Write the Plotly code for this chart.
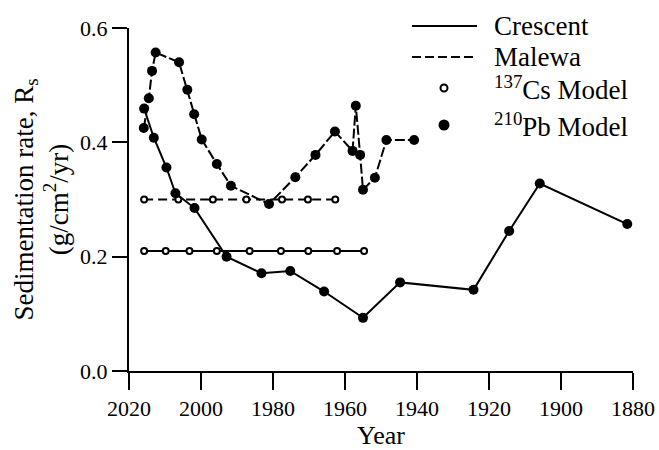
import plotly.graph_objects as go

# ---- data -------------------------------------------------------------
crescent_pb_year = [2015.8, 2013.1, 2009.6, 2007.1, 2001.8, 1992.9, 1983.2, 1975.2,
                    1965.8, 1955.0, 1944.7, 1924.3, 1914.4, 1905.9, 1881.6]
crescent_pb_rate = [0.459, 0.408, 0.356, 0.311, 0.285, 0.200, 0.171, 0.175,
                    0.139, 0.093, 0.155, 0.142, 0.245, 0.328, 0.257]

malewa_pb_year = [2015.9, 2014.5, 2013.6, 2012.6, 2006.1, 2003.8, 2001.9, 1999.8,
                  1995.6, 1991.7, 1981.1, 1973.8, 1968.2, 1962.8, 1957.9, 1957.0,
                  1955.8, 1955.0, 1951.7, 1948.5, 1940.8]
malewa_pb_rate = [0.425, 0.477, 0.525, 0.557, 0.540, 0.492, 0.449, 0.405,
                  0.362, 0.324, 0.292, 0.339, 0.378, 0.419, 0.385, 0.464,
                  0.378, 0.317, 0.338, 0.404, 0.404]

crescent_cs_year = [2015.8, 2009.8, 2003.2, 1995.6, 1986.5, 1977.8, 1970.2, 1962.2, 1954.7]
crescent_cs_rate = [0.21] * len(crescent_cs_year)

malewa_cs_year = [2015.8, 2006.3, 1996.7, 1987.4, 1977.5, 1970.3, 1962.7]
malewa_cs_rate = [0.30] * len(malewa_cs_year)

x_ticks = [2020, 2000, 1980, 1960, 1940, 1920, 1900, 1880]
y_ticks = [0.0, 0.2, 0.4, 0.6]

# ---- styling ----------------------------------------------------------
FONT = "Liberation Serif"
BLACK = "black"
DASH_PB = "10px,3px"
DASH_CS = "9px,5px"
W, H = 659, 450
M_L, M_R, M_T, M_B = 129, 26, 28, 79
PW, PH = W - M_L - M_R, H - M_T - M_B


def px_to_paper(px, py):
    return (px - M_L) / PW, (H - M_B - py) / PH


fig = go.Figure()

# 137Cs model (constant rate) lines with open circles
fig.add_trace(go.Scatter(
    x=crescent_cs_year, y=crescent_cs_rate, mode="lines+markers",
    line=dict(color=BLACK, width=2),
    marker=dict(symbol="circle", size=6, color="white", line=dict(color=BLACK, width=2)),
    showlegend=False))
fig.add_trace(go.Scatter(
    x=malewa_cs_year, y=malewa_cs_rate, mode="lines+markers",
    line=dict(color=BLACK, width=2, dash=DASH_CS),
    marker=dict(symbol="circle", size=6, color="white", line=dict(color=BLACK, width=2)),
    showlegend=False))

# 210Pb model profiles with filled circles
fig.add_trace(go.Scatter(
    x=malewa_pb_year, y=malewa_pb_rate, mode="lines+markers",
    line=dict(color=BLACK, width=2, dash=DASH_PB),
    marker=dict(symbol="circle", size=10, color=BLACK),
    showlegend=False))
fig.add_trace(go.Scatter(
    x=crescent_pb_year, y=crescent_pb_rate, mode="lines+markers",
    line=dict(color=BLACK, width=2),
    marker=dict(symbol="circle", size=10, color=BLACK),
    showlegend=False))

# ---- hand-built legend ------------------------------------------------
shapes = []
annotations = []
legend_rows = [
    ("line", "solid", "Crescent", 26),
    ("line", "dash", "Malewa", 57),
    ("open", None, "<sup>137</sup>Cs Model", 88),
    ("filled", None, "<sup>210</sup>Pb Model", 125),
]
for kind, style, label, py in legend_rows:
    x0, yp = px_to_paper(412, py)
    x1, _ = px_to_paper(477, py)
    xc, _ = px_to_paper(444, py)
    if kind == "line":
        shapes.append(dict(type="line", xref="paper", yref="paper",
                           x0=x0, x1=x1, y0=yp, y1=yp,
                           line=dict(color=BLACK, width=2,
                                     dash="solid" if style == "solid" else "9px,4px")))
    else:
        r = 3.5 if kind == "open" else 4.5
        shapes.append(dict(type="circle", xref="paper", yref="paper",
                           xsizemode="pixel", ysizemode="pixel",
                           xanchor=xc, yanchor=yp,
                           x0=-r, x1=r, y0=-r, y1=r,
                           fillcolor="white" if kind == "open" else BLACK,
                           line=dict(color=BLACK, width=2)))
    tx, _ = px_to_paper(492, py)
    annotations.append(dict(xref="paper", yref="paper", x=tx, y=yp,
                            xanchor="left", yanchor="middle", showarrow=False,
                            text=label, font=dict(family=FONT, size=27, color=BLACK)))

fig.update_layout(
    width=W, height=H,
    margin=dict(l=M_L, r=M_R, t=M_T, b=M_B, pad=0),
    paper_bgcolor="white", plot_bgcolor="white",
    font=dict(family=FONT, color=BLACK),
    shapes=shapes, annotations=annotations,
    xaxis=dict(
        range=[2020, 1880], tickvals=x_ticks, ticktext=[str(t) for t in x_ticks],
        automargin=False,
        showgrid=False, zeroline=False, showline=True, linecolor=BLACK, linewidth=2,
        ticks="outside", ticklen=17, tickwidth=2, tickcolor=BLACK,
        tickfont=dict(family=FONT, size=22, color=BLACK),
        title=dict(text="Year", font=dict(family=FONT, size=26, color=BLACK), standoff=8),
    ),
    yaxis=dict(
        range=[0, 0.6], tickvals=y_ticks, tickformat=".1f",
        automargin=False,
        showgrid=False, zeroline=False, showline=True, linecolor=BLACK, linewidth=2,
        ticks="outside", ticklen=15, tickwidth=2, tickcolor=BLACK,
        tickfont=dict(family=FONT, size=22, color=BLACK),
        title=dict(text="Sedimentation rate, R<sub>s</sub><br>(g/cm<sup>2</sup>/yr)",
                   font=dict(family=FONT, size=27, color=BLACK), standoff=4),
    ),
)

fig.write_html("out.html")
